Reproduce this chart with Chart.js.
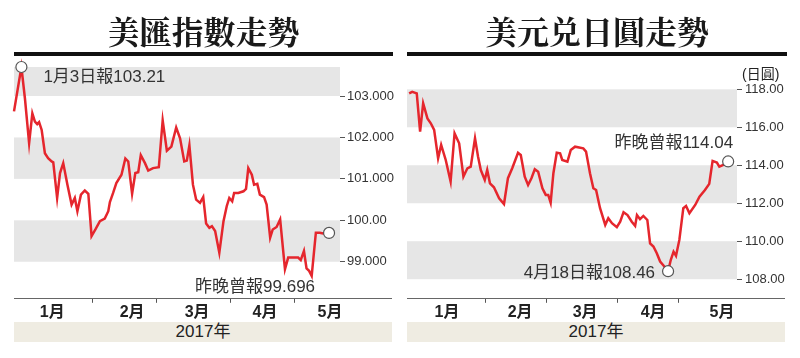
<!DOCTYPE html>
<html><head><meta charset="utf-8">
<script src="https://cdn.jsdelivr.net/npm/chart.js@4/dist/chart.umd.min.js"></script>
<style>
html,body{margin:0;padding:0;background:#fff;}
#wrap{position:relative;width:800px;height:358px;overflow:hidden;}
.title{position:absolute;top:10px;height:40px;line-height:40px;text-align:center;font-family:"Noto Serif CJK TC","Noto Sans CJK TC",serif;font-weight:700;font-size:32px;color:#1a1a1a;}
.bar{position:absolute;top:52px;height:4px;background:#111;}
.year{position:absolute;top:322px;height:20px;line-height:20px;text-align:center;background:#efece2;font-family:"Liberation Sans","Noto Sans CJK TC",sans-serif;font-size:17px;color:#222;}
.unit{position:absolute;left:742px;top:63px;font-family:"Liberation Sans","Noto Sans CJK TC",sans-serif;font-size:14px;color:#222;}
.cv{position:absolute;top:0;width:400px;height:358px;}
</style></head>
<body>
<div id="wrap">
  <div class="cv" style="left:0"><canvas id="c1"></canvas></div>
  <div class="cv" style="left:400px"><canvas id="c2"></canvas></div>
  <div class="title" style="left:14px;width:379px">美匯指數走勢</div>
  <div class="title" style="left:407px;width:380px">美元兑日圓走勢</div>
  <div class="bar" style="left:14px;width:379px"></div>
  <div class="bar" style="left:407px;width:380px"></div>
  <div class="year" style="left:14px;width:378px">2017年</div>
  <div class="year" style="left:407px;width:378px">2017年</div>
  <div class="unit">(日圓)</div>
</div>
<script>
// ---------- data (x = trading-day index, 0 = 2 Jan 2017) ----------
const dxyDays = [-2.3,0.0,1.1,2.4,3.4,4.2,4.9,5.5,6.3,7.3,8.3,9.4,9.9,11.1,12.0,13.0,14.3,15.6,16.6,17.4,18.5,19.7,20.8,21.8,23.0,24.4,25.9,27.0,27.5,28.5,29.5,31.1,32.3,33.2,34.4,35.4,36.3,37.1,38.4,39.4,40.9,42.7,43.9,45.2,46.6,48.1,49.3,50.6,51.4,52.2,53.3,54.3,55.5,56.5,57.4,58.4,59.2,60.2,61.5,62.8,63.8,64.6,65.5,66.1,67.4,69.0,69.8,70.5,71.6,72.3,73.3,74.1,75.4,76.2,77.3,78.1,79.3,80.4,81.9,82.9,84.5,86.0,86.8,87.8,88.6,89.4,90.2,91.5,92.7,93.8,95.6];
const dxyValues = [102.63,103.70,102.94,101.86,102.58,102.38,102.32,102.37,102.18,101.62,101.50,101.42,101.40,100.54,101.14,101.38,100.86,100.38,100.54,100.22,100.62,100.72,100.64,99.62,99.78,99.98,100.04,100.22,100.44,100.66,100.90,101.10,101.49,101.42,100.64,101.14,101.16,101.57,101.38,101.20,101.26,101.28,102.41,101.68,101.78,102.24,101.98,101.42,101.44,101.81,100.86,100.50,100.42,100.56,99.92,99.82,99.86,99.74,99.22,99.98,100.34,100.54,100.46,100.66,100.66,100.70,100.76,101.26,101.10,100.86,100.88,100.62,100.56,100.38,99.58,99.78,99.84,100.02,98.82,99.10,99.10,99.10,99.04,99.26,98.84,98.78,98.66,99.70,99.70,99.68,99.696];

const jpyDays = [-3.2,-2.2,-0.7,0.4,1.4,2.8,3.9,5.0,6.3,7.3,8.8,10.4,11.7,13.2,14.6,15.9,17.0,18.4,19.4,20.3,21.6,22.4,23.3,24.6,26.3,27.9,29.2,30.6,32.5,33.4,34.7,35.8,36.9,38.0,39.1,40.5,41.6,42.4,43.2,44.1,45.2,46.3,47.0,48.7,49.8,51.2,53.9,54.8,56.1,57.2,58.1,59.4,61.1,62.1,63.3,64.9,66.0,67.1,68.4,69.8,70.9,71.5,72.5,73.6,74.9,75.8,76.9,78.0,79.1,80.2,81.7,82.6,83.5,84.3,85.4,86.7,87.6,88.7,90.6,92.0,93.8,95.2,96.3,97.7,98.5,99.8,101.4];
const jpyValues = [117.79,117.87,117.79,115.77,117.26,116.47,116.21,115.86,114.37,115.07,114.28,113.14,115.68,115.16,113.40,113.84,113.93,115.42,114.45,113.75,113.23,113.75,113.05,112.84,112.26,111.96,113.32,113.84,114.66,114.54,113.40,112.96,113.32,113.79,113.66,112.79,112.44,112.44,112.03,113.58,114.66,114.63,114.28,114.19,114.81,114.98,114.89,114.72,113.58,112.79,112.70,111.74,110.86,111.21,110.95,110.74,111.03,111.53,111.38,111.03,110.81,111.38,111.16,111.33,111.12,109.89,109.72,109.37,108.93,108.72,108.42,109.02,109.45,109.23,110.07,111.74,111.86,111.47,111.91,112.35,112.70,113.02,114.23,114.14,113.93,114.02,114.20];

const monthLabels = ['1月','2月','3月','4月','5月'];
const monthStarts = [22, 42, 65, 85];           // first trading day of Feb, Mar, Apr, May
const dxyMonthLabelAt = [9.6, 34.4, 54.6, 75.7, 95.9];
const jpyMonthLabelAt = [9.2, 33.2, 54.5, 76.8, 99.4];

const dxyTicks = [99, 100, 101, 102, 103];
const dxyTickLabels = ['99.000', '100.00', '101.000', '102.000', '103.000'];
const jpyTicks = [108, 110, 112, 114, 116, 118];
const jpyTickLabels = ['108.00', '110.00', '112.00', '114.00', '116.00', '118.00'];

const dxyBands = [[99, 100], [101, 102], [103, 104]];
const jpyBands = [[108, 110], [112, 114], [116, 118]];

const dxyNotes = [
  {index: 1, text: '1月3日報103.21'},
  {index: dxyValues.length - 1, text: '昨晚曾報99.696'}
];
const jpyNotes = [
  {index: 70, text: '4月18日報108.46'},
  {index: jpyValues.length - 1, text: '昨晚曾報114.04'}
];

// ---------- plugins ----------
const bandPlugin = {
  id: 'bands',
  beforeDatasetsDraw(chart, args, opts) {
    const {ctx, chartArea: a} = chart;
    const y = chart.scales.y;
    ctx.save();
    ctx.fillStyle = opts.color;
    opts.bands.forEach(([lo, hi]) => {
      const top = Math.max(y.getPixelForValue(hi), a.top);
      const bot = Math.min(y.getPixelForValue(lo), a.bottom);
      if (bot > top) ctx.fillRect(a.left, top, a.right - a.left, bot - top);
    });
    ctx.strokeStyle = opts.axisColor;
    ctx.lineWidth = 1;
    ctx.beginPath();
    ctx.moveTo(a.left, Math.round(a.bottom) + 0.5);
    ctx.lineTo(opts.axisEnd, Math.round(a.bottom) + 0.5);
    ctx.stroke();
    ctx.restore();
  }
};
const notePlugin = {
  id: 'notes',
  afterDatasetsDraw(chart, args, opts) {
    const meta = chart.getDatasetMeta(0);
    const ctx = chart.ctx;
    ctx.save();
    ctx.font = opts.font;
    ctx.fillStyle = opts.color;
    ctx.textBaseline = 'middle';
    opts.items.forEach((n, k) => {
      const p = meta.data[n.index];
      const o = opts.offsets[k];
      ctx.textAlign = o.align;
      ctx.fillText(n.text, p.x + o.dx, p.y + o.dy);
    });
    ctx.restore();
  }
};

const labelFont = "'Liberation Sans', 'Noto Sans CJK TC', sans-serif";

function makeChart(id, c) {
  return new Chart(document.getElementById(id), {
    type: 'line',
    data: {
      datasets: [{
        data: c.days.map((d, i) => ({x: d, y: c.values[i]})),
        borderColor: '#e5262d',
        borderWidth: 2.5,
        tension: 0,
        clip: false,
        pointRadius: ctx => c.notes.some(n => n.index === ctx.dataIndex) ? 5.5 : 0,
        pointBackgroundColor: '#fff',
        pointBorderColor: '#555',
        pointBorderWidth: 1.2
      }]
    },
    options: {
      responsive: true, maintainAspectRatio: false, animation: false, events: [],
      layout: {padding: c.padding},
      plugins: {
        legend: {display: false}, tooltip: {enabled: false},
        bands: {bands: c.bands, color: '#e6e6e6', axisColor: '#666', axisEnd: c.axisEnd},
        notes: {items: c.notes, offsets: c.offsets, font: "17px " + labelFont, color: '#333'}
      },
      scales: {
        x: {
          type: 'linear', position: 'bottom', weight: 0, min: c.xmin, max: c.xmax,
          afterBuildTicks: s => { s.ticks = monthStarts.map(v => ({value: v})); },
          ticks: {display: false},
          grid: {drawOnChartArea: false, drawTicks: true, tickLength: 5, color: '#555', lineWidth: 1},
          border: {display: false}
        },
        x2: {
          type: 'linear', position: 'bottom', weight: 1, min: c.xmin, max: c.xmax,
          afterBuildTicks: s => { s.ticks = c.monthAt.map(v => ({value: v})); },
          ticks: {callback: (v, i) => monthLabels[i], autoSkip: false, maxRotation: 0, padding: 0,
                  color: '#222', font: {size: 16, weight: 'bold', family: labelFont}},
          grid: {display: false, drawTicks: false},
          border: {display: false}
        },
        y: {
          position: 'right', min: c.ymin, max: c.ymax,
          afterBuildTicks: s => { s.ticks = c.yTicks.map(v => ({value: v})); },
          afterFit: s => { s.width = c.yWidth; },
          ticks: {callback: (v, i) => c.yLabels[i], padding: c.yPad, color: '#333',
                  font: {size: 13, family: labelFont}},
          grid: {drawOnChartArea: false, tickLength: 5, color: '#555'},
          border: {display: false}
        }
      }
    },
    plugins: [bandPlugin, notePlugin]
  });
}

makeChart('c1', {
  days: dxyDays, values: dxyValues, notes: dxyNotes,
  offsets: [{align: 'left', dx: 22, dy: 10}, {align: 'right', dx: -14, dy: 54}],
  bands: dxyBands, yTicks: dxyTicks, yLabels: dxyTickLabels, monthAt: dxyMonthLabelAt,
  xmin: -2.3, xmax: 99.0, ymin: 98.13, ymax: 103.70, yPad: 2, yWidth: 60,
  padding: {left: 14, right: 0, top: 67, bottom: 36}, axisEnd: 392
});
makeChart('c2', {
  days: jpyDays, values: jpyValues, notes: jpyNotes,
  offsets: [{align: 'right', dx: -13, dy: 2}, {align: 'right', dx: 5, dy: -18}],
  bands: jpyBands, yTicks: jpyTicks, yLabels: jpyTickLabels, monthAt: jpyMonthLabelAt,
  xmin: -3.9, xmax: 104.3, ymin: 107.02, ymax: 118.28, yPad: 3, yWidth: 63,
  padding: {left: 7, right: 0, top: 84, bottom: 36}, axisEnd: 385
});
</script>
</body></html>
